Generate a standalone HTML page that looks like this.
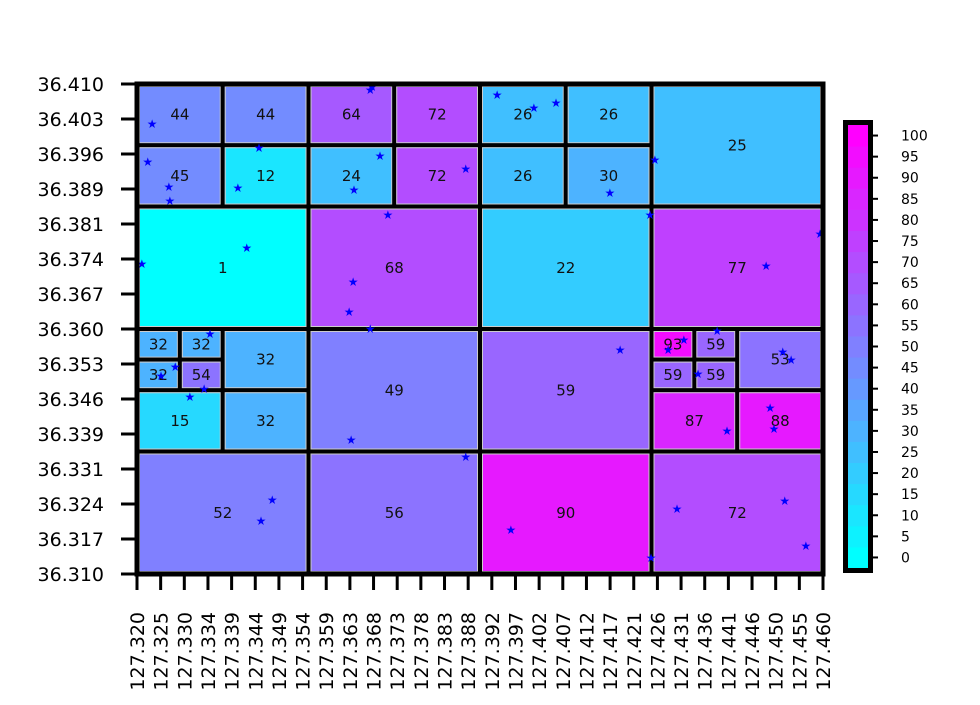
<!DOCTYPE html>
<html><head><meta charset="utf-8"><style>
body{margin:0;background:#fff;}
svg text{font-family:"DejaVu Sans","Liberation Sans",sans-serif;}
</style></head><body>
<svg id="chart" width="980" height="700" xmlns="http://www.w3.org/2000/svg"></svg>
<script>
const cellLon0 = [127.320,127.3375,127.320,127.3375, 127.355,127.3725,127.355,127.3725, 127.390,127.4075,127.390,127.4075, 127.425,
 127.320,127.355,127.390,127.425,
 127.320,127.32875,127.320,127.32875,127.3375,127.320,127.3375, 127.355,127.390,
 127.425,127.43375,127.425,127.43375,127.4425,127.425,127.4425,
 127.320,127.355,127.390,127.425];
const cellLat0 = [36.3975,36.3975,36.385,36.385, 36.3975,36.3975,36.385,36.385, 36.3975,36.3975,36.385,36.385, 36.385,
 36.360,36.360,36.360,36.360,
 36.35375,36.35375,36.3475,36.3475,36.3475,36.335,36.335, 36.335,36.335,
 36.35375,36.35375,36.3475,36.3475,36.3475,36.335,36.335,
 36.310,36.310,36.310,36.310];
const cellW = [0.0175,0.0175,0.0175,0.0175, 0.0175,0.0175,0.0175,0.0175, 0.0175,0.0175,0.0175,0.0175, 0.035,
 0.035,0.035,0.035,0.035,
 0.00875,0.00875,0.00875,0.00875,0.0175,0.0175,0.0175, 0.035,0.035,
 0.00875,0.00875,0.00875,0.00875,0.0175,0.0175,0.0175,
 0.035,0.035,0.035,0.035];
const cellH = [0.0125,0.0125,0.0125,0.0125, 0.0125,0.0125,0.0125,0.0125, 0.0125,0.0125,0.0125,0.0125, 0.025,
 0.025,0.025,0.025,0.025,
 0.00625,0.00625,0.00625,0.00625,0.0125,0.0125,0.0125, 0.025,0.025,
 0.00625,0.00625,0.00625,0.00625,0.0125,0.0125,0.0125,
 0.025,0.025,0.025,0.025];
const cellValues = [44,44,45,12, 64,72,24,72, 26,26,26,30, 25,
 1,68,22,77,
 32,32,32,54,32,15,32, 49,59,
 93,59,59,59,53,87,88,
 52,56,90,72];
const pointLon = [127.3231,127.3222,127.3265,127.3267,127.3406,127.3449,127.3424,127.3210,127.3676,127.3680,127.3696,127.3643,127.3712,127.3641,127.3633,127.3676,127.3871,127.3935,127.4010,127.4055,127.4165,127.4257,127.4247,127.4594,127.4484,127.4186,127.4284,127.4316,127.4384,127.4345,127.4518,127.4535,127.3278,127.3249,127.3337,127.3308,127.3349,127.3637,127.3871,127.3476,127.3453,127.3963,127.4302,127.4249,127.4404,127.4492,127.4500,127.4522,127.4565];
const pointLat = [36.4018,36.3941,36.3890,36.3861,36.3888,36.3969,36.3765,36.3733,36.4088,36.4094,36.3953,36.3884,36.3833,36.3696,36.3635,36.3600,36.3927,36.4078,36.4051,36.4061,36.3878,36.3945,36.3833,36.3794,36.3729,36.3557,36.3557,36.3578,36.3596,36.3508,36.3553,36.3537,36.3522,36.3504,36.3478,36.3461,36.3590,36.3373,36.3339,36.3251,36.3208,36.3190,36.3233,36.3133,36.3392,36.3439,36.3396,36.3249,36.3157];
const xTicks = [];
for(let i=0;i<=29;i++) xTicks.push(127.320+i*0.14/29);
const yTicks = [];
for(let i=0;i<=14;i++) yTicks.push(36.310+i*0.1/14);
const cbTicks = [0,5,10,15,20,25,30,35,40,45,50,55,60,65,70,75,80,85,90,95,100];

const svg = document.getElementById('chart');
const NS = 'http://www.w3.org/2000/svg';
const X0=137,X1=823,Y0=574,Y1=84;
const xs = v => X0+(v-127.320)/(0.140)*(X1-X0);
const ys = v => Y0-(v-36.310)/(0.100)*(Y0-Y1);
function mk(tag, attrs, parent){const e=document.createElementNS(NS,tag);for(const k in attrs)e.setAttribute(k,attrs[k]);(parent||svg).appendChild(e);return e;}
function cool(v){const t=Math.round(v/5)*5/100;return `rgb(${Math.round(255*t)},${Math.round(255*(1-t))},255)`;}

const gCells = mk('g',{});


for(let i=0;i<cellValues.length;i++){
  const x=xs(cellLon0[i]), x2=xs(cellLon0[i]+cellW[i]);
  const y=ys(cellLat0[i]+cellH[i]), y2=ys(cellLat0[i]);
  const r=mk('rect',{x:x,y:y,width:x2-x,height:y2-y,fill:cool(cellValues[i]),stroke:'#000','stroke-width':4},gCells);
  
  
  mk('rect',{x:x+2.5,y:y+2.5,width:x2-x-5,height:y2-y-5,fill:'none',stroke:'#ccc','stroke-width':1},gCells);
  const t=mk('text',{x:(x+x2)/2,y:(y+y2)/2+5,'font-size':15,'text-anchor':'middle',fill:'#111'},gCells);
  t.textContent=cellValues[i];
  
  
}
const gPts = mk('g',{});
for(let i=0;i<pointLon.length;i++){
  const t=mk('text',{x:xs(pointLon[i]),y:ys(pointLat[i])+4,'font-size':12,'text-anchor':'middle',fill:'#0000ff'},gPts);
  t.textContent='★';
  
  
}
const fr=mk('rect',{x:X0,y:Y1,width:X1-X0,height:Y0-Y1,fill:'none',stroke:'#000','stroke-width':5});


const gx=mk('g',{});


xTicks.forEach(v=>{
  const x=xs(v);
  mk('line',{x1:x,x2:x,y1:Y0,y2:Y0+16,stroke:'#000','stroke-width':3},gx);
  const t=mk('text',{x:0,y:0,'font-size':19,'text-anchor':'end',transform:`translate(${x+7},${Y0+38}) rotate(-90)`},gx);
  t.textContent=v.toFixed(3);
  
  
});
const gy=mk('g',{});


yTicks.forEach(v=>{
  const y=ys(v);
  mk('line',{x1:X0-16,x2:X0,y1:y,y2:y,stroke:'#000','stroke-width':3},gy);
  const t=mk('text',{x:104,y:y+7,'font-size':19,'text-anchor':'end'},gy);
  t.textContent=v.toFixed(3);
  
  
});
const gcb=mk('g',{});


const CB0=568,CB1=125,cbX=848,cbW=20;
const cy=v=>CB0-(v+2.5)/105*(CB0-CB1);
cbTicks.forEach(v=>{
  mk('rect',{x:cbX,y:cy(v+2.5),width:cbW,height:cy(v-2.5)-cy(v+2.5)+0.5,fill:cool(v)},gcb);
});
mk('rect',{x:cbX-2.5,y:CB1-2.5,width:cbW+5,height:CB0-CB1+5,fill:'none',stroke:'#000','stroke-width':5},gcb);
cbTicks.forEach(v=>{
  const y=cy(v);
  mk('line',{x1:cbX+cbW+2,x2:cbX+cbW+10,y1:y,y2:y,stroke:'#000','stroke-width':2},gcb);
  const t=mk('text',{x:901,y:y+5,'font-size':14},gcb);
  t.textContent=v;
  
  
});
</script>
</body></html>
